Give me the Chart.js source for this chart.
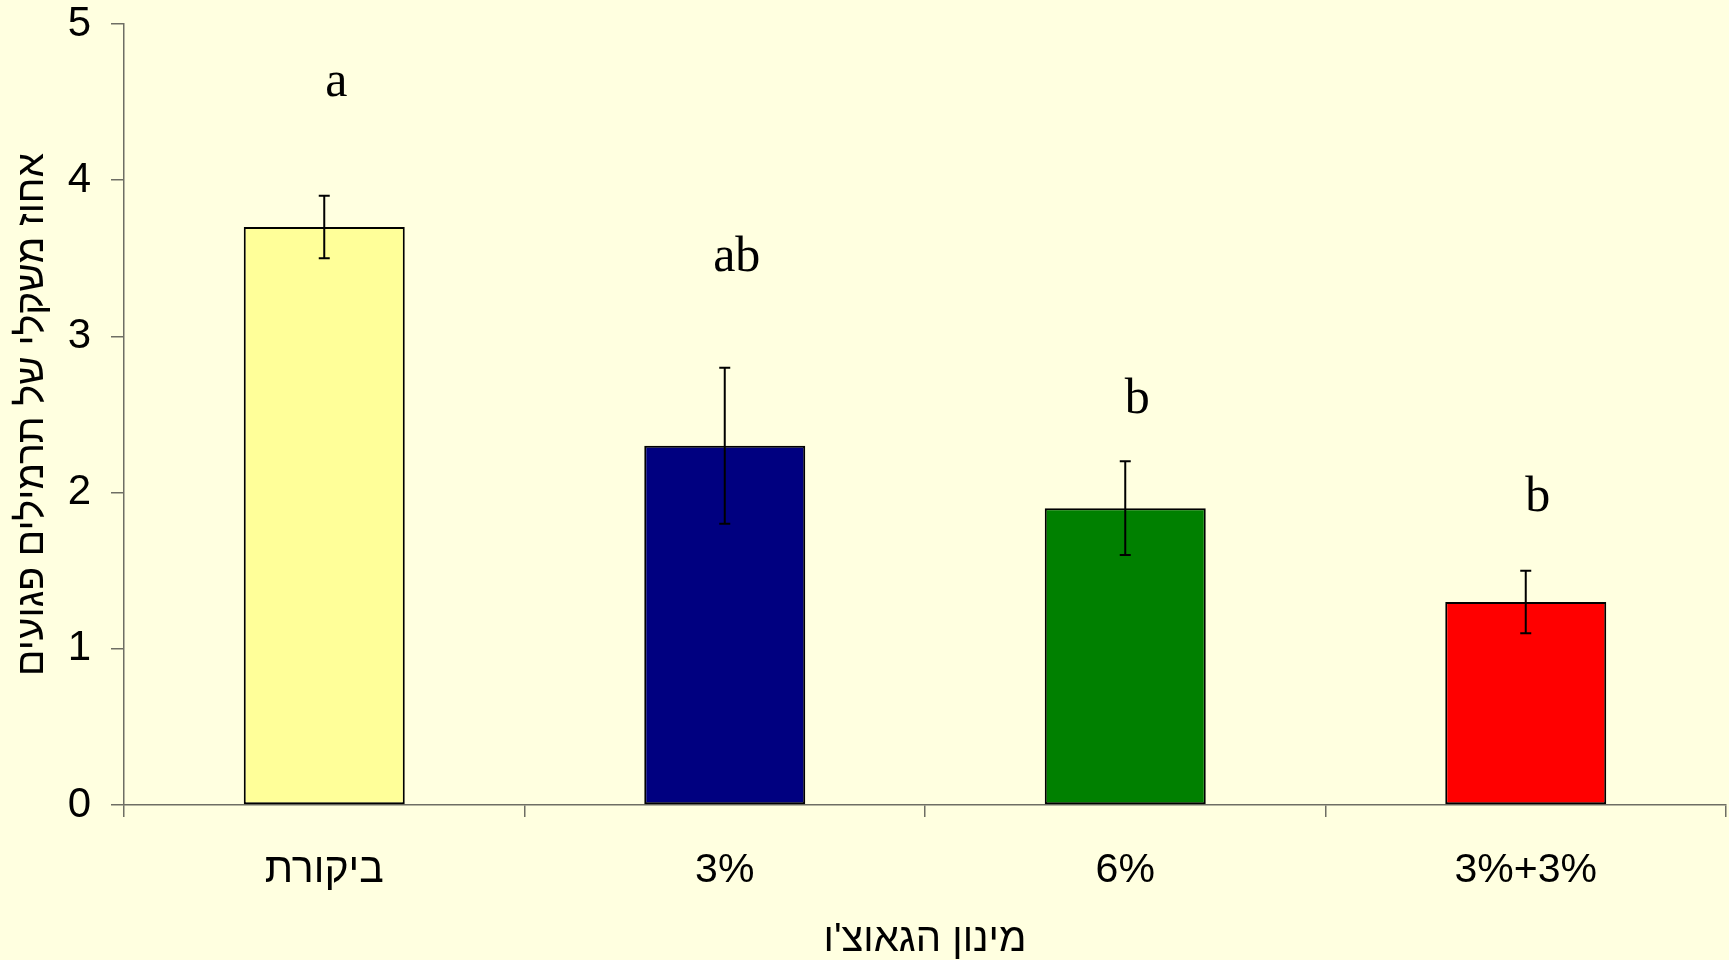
<!DOCTYPE html>
<html>
<head>
<meta charset="utf-8">
<script src="https://cdn.jsdelivr.net/npm/chart.js@4"></script>
<style>
  html, body { margin: 0; padding: 0; background: #FFFFE0; }
  canvas { display: block; }
</style>
</head>
<body>
<canvas id="chart" width="1729" height="960"></canvas>
<script>
// data
const categories = ['ביקורת', '3%', '6%', '3%+3%'];
const values = [3.7, 2.3, 1.9, 1.3];
const errors = [0.2, 0.5, 0.3, 0.2];
const letters = ['a', 'ab', 'b', 'b'];
const letterLevels = [4.54, 3.42, 2.51, 1.88]; // baseline of each letter, in y units
const barColors = ['#FFFF99', '#000080', '#008000', '#FF0000'];
const yTicks = [0, 1, 2, 3, 4, 5];

const axisColor = '#6e6e64';

// error bars and significance letters
const extras = {
    id: 'extras',
    afterDatasetsDraw(chart) {
        const ctx = chart.ctx;
        const y = chart.scales.y;
        const bars = chart.getDatasetMeta(0).data;
        ctx.save();
        ctx.strokeStyle = '#000';
        ctx.lineWidth = 2;
        bars.forEach((bar, i) => {
            const top = y.getPixelForValue(values[i] + errors[i]);
            const bot = y.getPixelForValue(values[i] - errors[i]);
            ctx.beginPath();
            ctx.moveTo(bar.x, top);
            ctx.lineTo(bar.x, bot);
            ctx.moveTo(bar.x - 5.5, top);
            ctx.lineTo(bar.x + 5.5, top);
            ctx.moveTo(bar.x - 5.5, bot);
            ctx.lineTo(bar.x + 5.5, bot);
            ctx.stroke();
        });
        ctx.fillStyle = '#000';
        ctx.font = '50px "Liberation Serif", "Times New Roman", serif';
        ctx.textAlign = 'center';
        ctx.textBaseline = 'alphabetic';
        bars.forEach((bar, i) => {
            ctx.fillText(letters[i], bar.x + 12, y.getPixelForValue(letterLevels[i]));
        });
        ctx.restore();
    }
};

new Chart(document.getElementById('chart').getContext('2d'), {
    type: 'bar',
    data: {
        labels: categories,
        datasets: [{
            data: values,
            backgroundColor: barColors,
            borderColor: '#000',
            borderWidth: 2,
            borderSkipped: false,
            barPercentage: 0.402,
            categoryPercentage: 1
        }]
    },
    options: {
        responsive: false,
        animation: false,
        layout: { autoPadding: false, padding: { left: 0, right: 3, top: 24, bottom: 0 } },
        plugins: {
            legend: { display: false },
            tooltip: { enabled: false }
        },
        scales: {
            x: {
                afterFit: s => { s.height = 155; },
                grid: {
                    display: true,
                    offset: true,
                    drawOnChartArea: false,
                    tickLength: 12,
                    color: axisColor,
                    lineWidth: 1.5
                },
                border: { display: true, color: axisColor, width: 1.5 },
                ticks: {
                    padding: 29,
                    color: '#000',
                    font: { family: '"Liberation Sans", Arial, sans-serif', size: 41 }
                },
                title: {
                    display: true,
                    text: "מינון הגאוצ'ו",
                    color: '#000',
                    padding: { top: 0, bottom: 0 },
                    font: { family: '"Liberation Sans", Arial, sans-serif', size: 40, lineHeight: 1.0 }
                }
            },
            y: {
                min: 0,
                max: 5,
                afterFit: s => {
                    s.width = 124;
                    s.paddingTop = 0;
                    s.paddingBottom = 0;
                },
                afterBuildTicks: s => { s.ticks = yTicks.map(v => ({ value: v })); },
                grid: {
                    display: true,
                    drawOnChartArea: false,
                    tickLength: 13,
                    color: axisColor,
                    lineWidth: 1.5
                },
                border: { display: true, color: axisColor, width: 1.5 },
                ticks: {
                    padding: 20,
                    color: '#000',
                    font: { family: '"Liberation Sans", Arial, sans-serif', size: 42 }
                },
                title: {
                    display: true,
                    text: 'אחוז משקלי של תרמילים פגועים',
                    color: '#000',
                    padding: { top: 9, bottom: 0 },
                    font: { family: '"Liberation Sans", Arial, sans-serif', size: 39, lineHeight: 1.2 }
                }
            }
        }
    },
    plugins: [extras]
});
</script>
</body>
</html>
